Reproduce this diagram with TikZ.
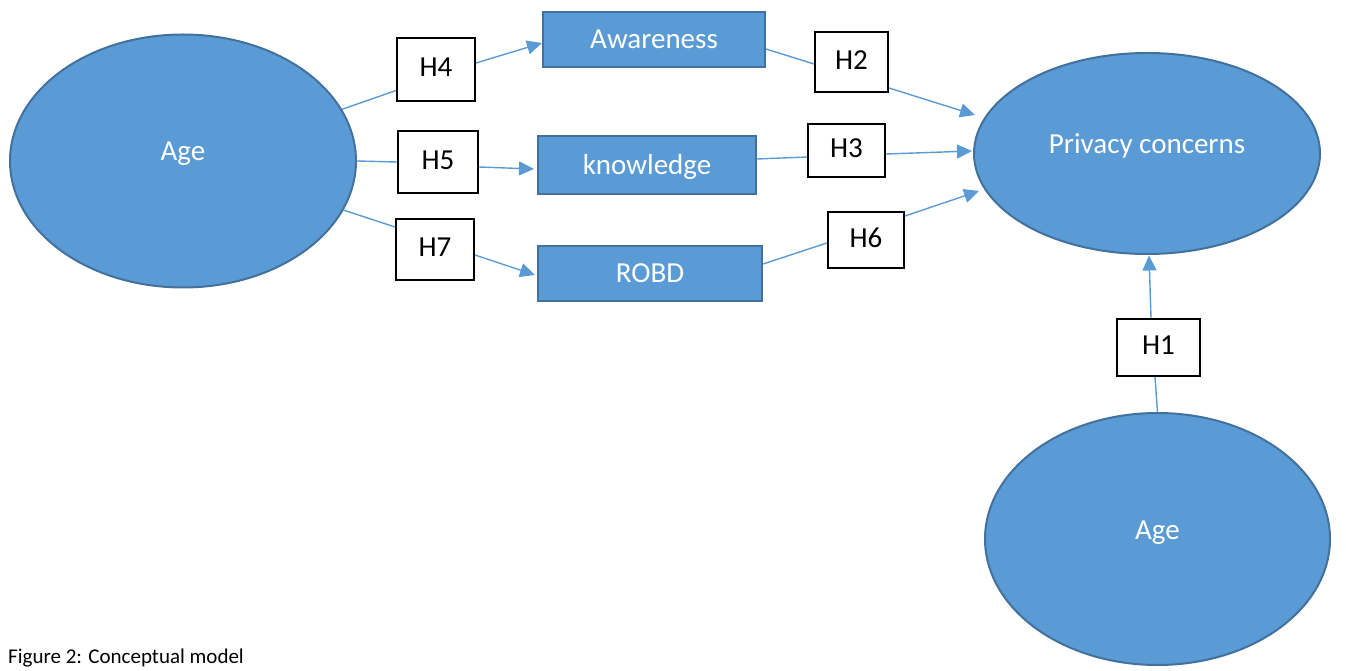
\documentclass[tikz,border=0pt]{standalone}
\usepackage{fontspec}
\setmainfont{Carlito}
\usetikzlibrary{arrows.meta,shapes.geometric}
\definecolor{ofblue}{HTML}{5B9BD5}
\definecolor{ofborder}{HTML}{41719C}
\begin{document}
\begin{tikzpicture}[x=1pt,y=1pt,
  ovalnode/.style={ellipse, fill=ofblue, draw=ofborder, line width=2pt, inner sep=0pt,
    text=white, font=\fontsize{29}{35}\selectfont, text height=19pt, text depth=19pt},
  varbox/.style={rectangle, fill=ofblue, draw=ofborder, line width=2pt, inner sep=0pt,
    text=white, font=\fontsize{29}{35}\selectfont, text height=18.5pt, text depth=0pt},
  hbox/.style={rectangle, fill=white, draw=black, line width=2pt, inner sep=0pt,
    font=\fontsize{29}{35}\selectfont, text height=19pt, text depth=4pt},
  link/.style={draw=ofblue, line width=1.4pt},
  arrowlink/.style={link, -{Triangle[length=15pt,width=14pt]}}
]
\useasboundingbox (0,0) rectangle (1346,670);

% ellipses
\node[ovalnode, minimum width=346, minimum height=253] (ageL) at (183,509) {Age};
\node[ovalnode, minimum width=346, minimum height=201] (priv) at (1147,516.5) {Privacy concerns};
\node[ovalnode, minimum width=345, minimum height=252] (ageB) at (1157.5,131) {Age};

% variable boxes
\node[varbox, minimum width=222, minimum height=55] (aware) at (654,630.5) {Awareness};
\node[varbox, minimum width=218, minimum height=58] (know) at (647,505) {knowledge};
\node[varbox, minimum width=224, minimum height=55] (robd) at (650,396.5) {ROBD};

% hypothesis boxes
\node[hbox, minimum width=78, minimum height=63] (h4) at (436,600.5) {H4};
\node[hbox, minimum width=73, minimum height=60] (h2) at (851.5,608) {H2};
\node[hbox, minimum width=77, minimum height=53] (h3) at (846.5,519.5) {H3};
\node[hbox, minimum width=80, minimum height=62] (h5) at (438,508) {H5};
\node[hbox, minimum width=78, minimum height=61] (h7) at (435,420.5) {H7};
\node[hbox, minimum width=76, minimum height=56] (h6) at (866,430) {H6};
\node[hbox, minimum width=83, minimum height=57] (h1) at (1158.5,322.5) {H1};

% connectors
\draw[link] (ageL.18.8) -- ([yshift=-21]h4.west);
\draw[arrowlink] ([yshift=6.5]h4.east) -- ([yshift=-3.5]aware.west);

\draw[link] (ageL.0) -- (h5.west);
\draw[arrowlink] ([yshift=-5]h5.east) -- ([yshift=-4, xshift=-3]know.west);

\draw[link] (ageL.-17.1) -- ([yshift=22.5]h7.west);
\draw[arrowlink] ([yshift=-5.5]h7.east) -- ([yshift=-1.5, xshift=-2]robd.west);

\draw[link] ([yshift=-9.5]aware.east) -- ([yshift=-2]h2.west);
\draw[arrowlink] ([yshift=-26]h2.east) -- ([shift={(-172,38.5)}]priv.center);

\draw[link] ([yshift=6]know.east) -- ([yshift=-6.5]h3.west);
\draw[arrowlink] ([yshift=-3.5]h3.east) -- ([shift={(-175,2.5)}]priv.center);

\draw[link] ([yshift=9.5]robd.east) -- ([yshift=-3]h6.west);
\draw[arrowlink] ([yshift=24]h6.east) -- ([shift={(-168,-37.5)}]priv.center);

\draw[link] (ageB.north) -- ([xshift=-3.5]h1.south);
\draw[arrowlink] ([xshift=-7.5]h1.north) -- ([shift={(2,-102)}]priv.center);

% caption
\node[anchor=base west, inner sep=0pt, font=\fontsize{21}{25}\selectfont] (cap) at (8,7) {Figure 2: Conceptual model};
\end{tikzpicture}
\end{document}
